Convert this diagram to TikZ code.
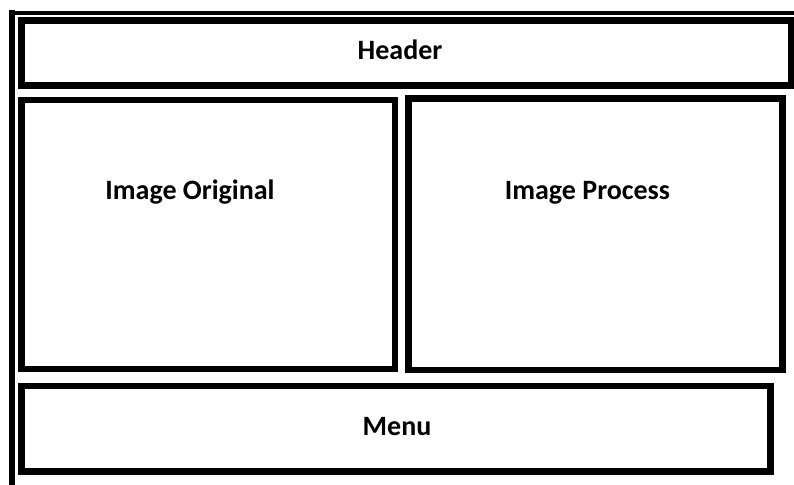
\documentclass[tikz,border=0pt]{standalone}
\usepackage{fontspec}
\setmainfont{Carlito}
\begin{document}
\begin{tikzpicture}[x=1pt,y=-1pt,
  panel/.style={draw=black,line width=6.5pt,line join=miter},
  frame/.style={draw=black,line cap=rect},
  title/.style={font=\bfseries\fontsize{28}{30}\selectfont,anchor=base,inner sep=0pt}]
\useasboundingbox (0,0) rectangle (794,484);
% outer window frame (only top and left edges visible)
\coordinate (ftl) at (11.5,13);
\coordinate (ftr) at (800,13);
\coordinate (fbl) at (11.5,490);
\draw[frame,line width=4.5pt] (ftl) -- (ftr);
\draw[frame,line width=6pt] (ftl) -- (fbl);
% panels
\draw[panel] (21.5,20.5) rectangle (791,85.5);
\draw[panel] (21.5,100) rectangle (395,369);
\draw[panel] (408.5,98.5) rectangle (782.5,370);
\draw[panel] (21.5,386) rectangle (770.5,471.5);
% captions
\node[title] (header) at (400,60) {Header};
\node[title] (orig) at (190,199) {Image Original};
\node[title] (proc) at (587.5,199) {Image Process};
\node[title] (menu) at (397,435) {Menu};
\end{tikzpicture}
\end{document}
